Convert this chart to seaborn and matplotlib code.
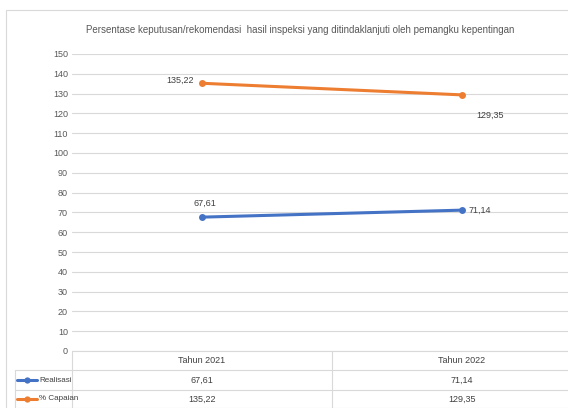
import matplotlib
matplotlib.use("Agg")
import matplotlib.pyplot as plt
import seaborn as sns
import pandas as pd
from matplotlib.lines import Line2D
from matplotlib.patches import Rectangle

categories = ["Tahun 2021", "Tahun 2022"]
realisasi = [67.61, 71.14]
capaian = [135.22, 129.35]
series_names = ["Realisasi", "% Capaian"]
colors = ["#4472C4", "#ED7D31"]
yticks = list(range(0, 151, 10))

def fmt(v):
    return f"{v:.2f}".replace(".", ",")

df = pd.DataFrame({
    "kategori": categories * 2,
    "x": [0, 1] * 2,
    "nilai": realisasi + capaian,
    "seri": [series_names[0]] * 2 + [series_names[1]] * 2,
})

sns.set_theme(style="white")
plt.rcParams["font.family"] = ["Liberation Sans", "DejaVu Sans"]

W, H = 568, 408
fig = plt.figure(figsize=(W / 100, H / 100), dpi=100)
fig.patch.set_facecolor("white")

# outer frame
fig.add_artist(Rectangle((6 / W, -0.1), 1.2, (H - 10) / H + 0.1, transform=fig.transFigure,
                         fill=False, edgecolor="#d9d9d9", lw=0.8))

left_px, right_px = 72, 592
y0_px, y150_px = 351, 54
ax = fig.add_axes([left_px / W, (H - y0_px) / H, (right_px - left_px) / W, (y0_px - y150_px) / H])
ax.set_facecolor("none")

sns.lineplot(data=df, x="x", y="nilai", hue="seri", palette=colors, hue_order=series_names,
             marker="o", markersize=5, markeredgewidth=0, linewidth=2.2, ax=ax, legend=False)

ax.set_xlim(-0.5, 1.5)
ax.set_ylim(0, 150)
ax.set_yticks(yticks)
ax.set_yticklabels([str(t) for t in yticks], fontsize=6.5, color="#595959")
ax.set_xticks([])
ax.set_xlabel("")
ax.set_ylabel("")
ax.tick_params(axis="y", length=0, pad=3)
for s in ax.spines.values():
    s.set_visible(False)
ax.grid(axis="y", color="#d9d9d9", lw=0.8)
ax.set_axisbelow(True)

lab_kw = dict(fontsize=6.5, color="#404040")
ax.annotate(fmt(capaian[0]), (0, capaian[0]), xytext=(-6, 2), textcoords="offset points",
            ha="right", va="center", **lab_kw)
ax.annotate(fmt(capaian[1]), (1, capaian[1]), xytext=(20, -15), textcoords="offset points",
            ha="center", va="center", **lab_kw)
ax.annotate(fmt(realisasi[0]), (0, realisasi[0]), xytext=(2, 10), textcoords="offset points",
            ha="center", va="center", **lab_kw)
ax.annotate(fmt(realisasi[1]), (1, realisasi[1]), xytext=(5, 0), textcoords="offset points",
            ha="left", va="center", **lab_kw)

fig.text(300 / W, 1 - 30 / H,
         "Persentase keputusan/rekomendasi  hasil inspeksi yang ditindaklanjuti oleh pemangku kepentingan",
         ha="center", va="center", fontsize=7.0, color="#595959")

# data table
def fx(px):
    return px / W

def fy(py):
    return 1 - py / H

lc = "#d9d9d9"
mid_px = (left_px + right_px) / 2
rows = [351, 370, 390, 407.5]
for r in rows:
    x_start = left_px if r == 351 else 15
    fig.add_artist(Line2D([fx(x_start), fx(right_px)], [fy(r), fy(r)], color=lc, lw=0.8))
fig.add_artist(Line2D([fx(left_px), fx(left_px)], [fy(351), fy(408)], color=lc, lw=0.8))
fig.add_artist(Line2D([fx(mid_px), fx(mid_px)], [fy(351), fy(408)], color=lc, lw=0.8))
fig.add_artist(Line2D([fx(15), fx(15)], [fy(370), fy(408)], color=lc, lw=0.8))

col_centers = [(left_px + mid_px) / 2, (mid_px + right_px) / 2]
tk = dict(fontsize=6.5, color="#404040", ha="center", va="center")
for c, cat in zip(col_centers, categories):
    fig.text(fx(c), fy(360.5), cat, **tk)
for c, v in zip(col_centers, realisasi):
    fig.text(fx(c), fy(380), fmt(v), **tk)
for c, v in zip(col_centers, capaian):
    fig.text(fx(c), fy(399), fmt(v), **tk)

for name, col, ry in zip(series_names, colors, [380, 399]):
    fig.add_artist(Line2D([fx(17), fx(37)], [fy(ry), fy(ry)], color=col, lw=2.2))
    fig.add_artist(Line2D([fx(27)], [fy(ry)], color=col, marker="o", markersize=4.5, markeredgewidth=0))
    fig.text(fx(39), fy(ry), name, fontsize=5.8, color="#404040", ha="left", va="center")

fig.savefig("out.png", dpi=100)
